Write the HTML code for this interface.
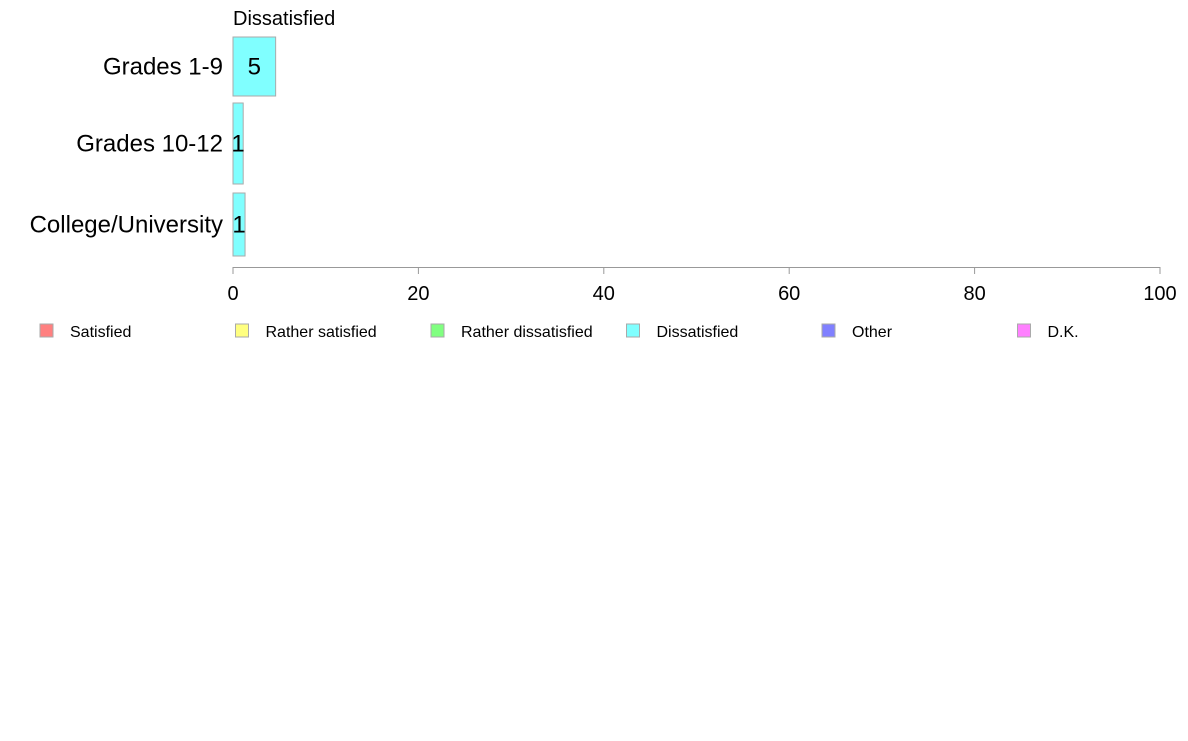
<!DOCTYPE html>
<html><head><meta charset="utf-8"><style>
body{margin:0;background:#fff;font-family:"Liberation Sans",Arial,sans-serif}
</style></head><body>
<svg id="chart" width="1188" height="736" xmlns="http://www.w3.org/2000/svg" font-family="Liberation Sans, Arial, sans-serif"></svg>
<script>
const categories=["Grades 1-9","Grades 10-12","College/University"];
const values=[4.6,1.1,1.3];
const labels=["5","1","1"];
const ticks=[0,20,40,60,80,100];
const legendNames=["Satisfied","Rather satisfied","Rather dissatisfied","Dissatisfied","Other","D.K."];
const legendColors=["#ff8080","#ffff80","#80ff80","#80ffff","#8080ff","#ff80ff"];
const NS="http://www.w3.org/2000/svg";
const svg=document.getElementById('chart');
const x0=233,x1=1160;
const xs=v=>x0+(x1-x0)*v/100;
const bands=[[37,96],[103,184],[193,256]];
function mk(t,a,p){const e=document.createElementNS(NS,t);for(const k in a)e.setAttribute(k,a[k]);(p||svg).appendChild(e);return e;}
let t=mk('text',{x:233,y:25,'font-size':20,fill:'#000'});t.textContent="Dissatisfied";


categories.forEach((c,i)=>{
 const [y0,y1]=bands[i];
 const r=mk('rect',{x:x0,y:y0,width:xs(values[i])-x0,height:y1-y0,fill:'#80ffff',stroke:'#aaaaaa','stroke-width':1});
 
 
 const cy=(y0+y1)/2;
 const l=mk('text',{x:223,y:cy+8,'font-size':24,'text-anchor':'end',fill:'#000'});l.textContent=c;
 
 
 const v=mk('text',{x:(x0+xs(values[i]))/2,y:cy+8,'font-size':24,'text-anchor':'middle',fill:'#000'});v.textContent=labels[i];
 
 
});
const ax=mk('line',{x1:x0,x2:x1,y1:267.5,y2:267.5,stroke:'#999','stroke-width':1});


ticks.forEach(tk=>{
 const tl=mk('line',{x1:xs(tk),x2:xs(tk),y1:267,y2:274,stroke:'#999','stroke-width':1});
 
 
 const tx=mk('text',{x:xs(tk),y:300,'font-size':20,'text-anchor':'middle',fill:'#000'});tx.textContent=tk;
 
 
});
legendNames.forEach((n,i)=>{
 const lx=40+i*195.5;
 const g=mk('g',{});
 
 
 mk('rect',{x:lx,y:324,width:13,height:13,fill:legendColors[i],stroke:'#aaa','stroke-width':1},g);
 const tx=mk('text',{x:lx+30,y:337,'font-size':16,fill:'#000'},g);tx.textContent=n;
});
</script>
</body></html>
